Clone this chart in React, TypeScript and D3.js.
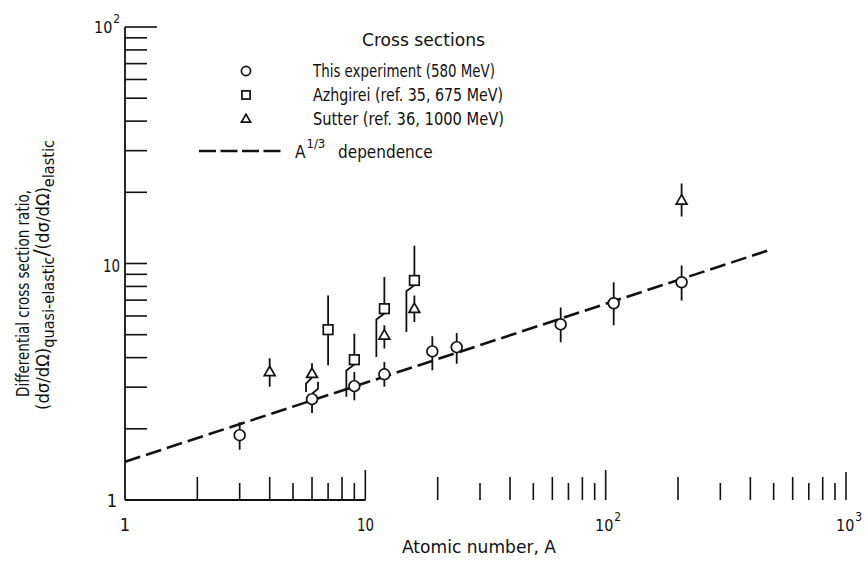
import React from "react";
import * as d3 from "d3";

const W = 866;
const H = 564;
const F = "'DejaVu Sans Condensed','DejaVu Sans',sans-serif";

// This experiment (580 MeV) — circles
const circleA = [3, 6, 9, 12, 19, 24, 65, 108, 207];
const circleV = [1.88, 2.67, 3.03, 3.4, 4.25, 4.43, 5.53, 6.79, 8.33];
const circleLo = [1.63, 2.33, 2.64, 3.01, 3.54, 3.77, 4.64, 5.48, 6.98];
const circleHi = [2.13, 3.16, 3.48, 3.83, 4.92, 5.08, 6.52, 8.33, 9.81];
const circleLoOff = [0, 0, 0, 0, 0, 0, 0, 0, 0];
const circleHiOff = [0, 6, 0, 0, 0, 0, 0, 0, 0];

// Azhgirei (ref. 35, 675 MeV) — squares
const squareA = [7, 9, 12, 16];
const squareV = [5.25, 3.92, 6.44, 8.48];
const squareLo = [3.71, 2.73, 4.02, 5.13];
const squareHi = [7.33, 5.05, 8.77, 11.9];
const squareLoOff = [0, -8, -8, -8];
const squareHiOff = [0, 0, 0, 0];

// Sutter (ref. 36, 1000 MeV) — triangles
const triA = [4, 6, 12, 16, 207];
const triV = [3.48, 3.42, 4.97, 6.44, 18.5];
const triLo = [3.01, 2.86, 4.37, 5.66, 15.8];
const triHi = [3.98, 3.79, 5.48, 7.33, 21.8];
const triLoOff = [0, -6, 0, 0, 0];
const triHiOff = [0, 0, 0, 0, 0];

// A^(1/3) dependence line endpoints
const fitA = [1, 480];
const fitV = [1.45, 11.4];

const yMinor = [2, 3, 4, 5, 6, 7, 8, 9, 10, 20, 30, 40, 50, 60, 70, 80, 90, 100];
const xMinor = [2, 3, 4, 5, 6, 7, 8, 9, 10, 20, 30, 40, 50, 60, 70, 80, 90, 100,
  200, 300, 400, 500, 600, 700, 800, 900, 1000];

const legendLabels = [
  "This experiment (580 MeV)",
  "Azhgirei (ref. 35, 675 MeV)",
  "Sutter (ref. 36, 1000 MeV)",
];
const legendWidths = [182, 190, 191];

const x = d3.scaleLog().domain([1, 1000]).range([125, 846]);
const y = d3.scaleLog().domain([1, 100]).range([500, 27]);

type Shape = "circle" | "square" | "tri";

function Marker({ shape, cx, cy, s = 1 }: { shape: Shape; cx: number; cy: number; s?: number }) {
  const sw = 1.7;
  if (shape === "circle")
    return <circle cx={cx} cy={cy} r={5.4 * s} fill="#fff" stroke="#111" strokeWidth={sw} />;
  if (shape === "square")
    return (
      <rect x={cx - 4.8 * s} y={cy - 4.8 * s} width={9.6 * s} height={9.6 * s}
        fill="#fff" stroke="#111" strokeWidth={sw} />
    );
  const h = 9.4 * s, hw = 5.4 * s;
  return (
    <path d={`M${cx},${cy - h * 0.6}L${cx + hw},${cy + h * 0.4}L${cx - hw},${cy + h * 0.4}Z`}
      fill="#fff" stroke="#111" strokeWidth={sw} strokeLinejoin="miter" />
  );
}

function edge(shape: Shape, up: boolean) {
  if (shape === "circle") return 5.4;
  if (shape === "square") return 4.8;
  return up ? 5.6 : 3.8;
}

function ErrBar({ shape, a, v, lo, hi, loOff, hiOff }: {
  shape: Shape; a: number; v: number; lo: number; hi: number; loOff: number; hiOff: number;
}) {
  const cx = x(a), cy = y(v);
  const eu = cy - edge(shape, true);
  const ed = cy + edge(shape, false);
  const yh = y(hi), yl = y(lo);
  const up = hiOff
    ? `M${cx},${eu}L${cx + hiOff},${eu - 5}L${cx + hiOff},${yh}`
    : `M${cx},${eu}L${cx},${yh}`;
  const dn = loOff
    ? `M${cx},${ed}L${cx + loOff},${ed + 6}L${cx + loOff},${yl}`
    : `M${cx},${ed}L${cx},${yl}`;
  return <path d={up + dn} fill="none" stroke="#111" strokeWidth={1.8} />;
}

function Series({ shape, A, V, Lo, Hi, LoOff, HiOff }: {
  shape: Shape; A: number[]; V: number[]; Lo: number[]; Hi: number[]; LoOff: number[]; HiOff: number[];
}) {
  return (
    <g>
      {A.map((a, i) => (
        <g key={i}>
          <ErrBar shape={shape} a={a} v={V[i]} lo={Lo[i]} hi={Hi[i]} loOff={LoOff[i]} hiOff={HiOff[i]} />
          <Marker shape={shape} cx={x(a)} cy={y(V[i])} />
        </g>
      ))}
    </g>
  );
}

export default function App() {
  const fitLine = d3.line<number>().x((a) => x(a)).y((_, i) => y(fitV[i]))(fitA) || "";
  const xTickLen = (t: number) => {
    const m = Math.round(t / Math.pow(10, Math.floor(Math.log10(t) + 1e-9)));
    if (t === 1000) return 28;
    if (m === 1) return 30;
    return m % 2 === 0 ? 23 : 17;
  };
  const LA = "spacingAndGlyphs";
  return (
    <svg width={W} height={H} style={{ position: "absolute", left: 0, top: 0, background: "#fff" }}
      fontFamily={F}>
      <rect width={W} height={H} fill="#fff" />
      {/* axes */}
      <line x1={x(1)} x2={x(1)} y1={y(1)} y2={y(100)} stroke="#111" strokeWidth={1.8} />
      <line x1={x(1)} x2={x(10)} y1={y(1)} y2={y(1)} stroke="#111" strokeWidth={1.8} />
      {yMinor.map((t) => (
        <line key={"y" + t} x1={x(1)} x2={x(1) + (t === 100 ? 32 : 22)} y1={y(t)} y2={y(t)}
          stroke="#111" strokeWidth={1.6} />
      ))}
      {xMinor.map((t) => (
        <line key={"x" + t} x1={x(t)} x2={x(t)} y1={y(1)} y2={y(1) - xTickLen(t)}
          stroke="#111" strokeWidth={1.6} />
      ))}
      {/* y tick labels */}
      <g fontSize={18} fill="#111">
        <text x={117} y={507} textAnchor="end">1</text>
        <text x={103} y={272} textLength={17} lengthAdjust={LA}>10</text>
        <text x={94} y={33} fontSize={16}>10<tspan dx={1} dy={-10} fontSize={12}>2</tspan></text>
      </g>
      {/* x tick labels */}
      <g fontSize={18} fill="#111">
        <text x={x(1)} y={531} textAnchor="middle">1</text>
        <text x={357} y={531} textLength={17} lengthAdjust={LA}>10</text>
        <text x={595} y={531} fontSize={16}>10<tspan dx={1} dy={-10} fontSize={12}>2</tspan></text>
        <text x={836} y={531} fontSize={16}>10<tspan dx={1} dy={-10} fontSize={12}>3</tspan></text>
      </g>
      <text x={402} y={553} fontSize={17} fill="#111" textLength={154} lengthAdjust={LA}>Atomic number, A</text>
      {/* y title */}
      <g fill="#111">
        <text transform="translate(29,397) rotate(-90)" fontSize={17} textLength={207} lengthAdjust={LA}>
          Differential cross section ratio,
        </text>
        <text transform="translate(49,410) rotate(-90)" fontSize={17} textLength={270} lengthAdjust={LA}>
          (dσ/dΩ)<tspan dy={5} fontSize={15}>quasi-elastic</tspan>
          <tspan dy={-5} fontSize={22}>/</tspan>
          <tspan fontSize={17}>(dσ/dΩ)</tspan>
          <tspan dy={5} fontSize={15}>elastic</tspan>
        </text>
      </g>
      {/* fit line */}
      <path d={fitLine} fill="none" stroke="#111" strokeWidth={2.6} strokeDasharray="16 6" />
      {/* data */}
      <Series shape="square" A={squareA} V={squareV} Lo={squareLo} Hi={squareHi} LoOff={squareLoOff} HiOff={squareHiOff} />
      <Series shape="tri" A={triA} V={triV} Lo={triLo} Hi={triHi} LoOff={triLoOff} HiOff={triHiOff} />
      <Series shape="circle" A={circleA} V={circleV} Lo={circleLo} Hi={circleHi} LoOff={circleLoOff} HiOff={circleHiOff} />
      {/* legend */}
      <g fill="#111" fontSize={17}>
        <text x={362} y={46} textLength={123} lengthAdjust={LA}>Cross sections</text>
        {(["circle", "square", "tri"] as Shape[]).map((s, i) => (
          <g key={s}>
            <Marker shape={s} cx={246} cy={71 + i * 24} s={0.85} />
            <text x={313} y={77 + i * 24} textLength={legendWidths[i]} lengthAdjust={LA}>{legendLabels[i]}</text>
          </g>
        ))}
        <line x1={199} x2={281} y1={151} y2={151} stroke="#111" strokeWidth={2.6} strokeDasharray="17 4.5" />
        <text x={295} y={158}>A<tspan dx={1} dy={-10} fontSize={13}>1/3</tspan><tspan x={338} y={158}>dependence</tspan></text>
      </g>
    </svg>
  );
}
